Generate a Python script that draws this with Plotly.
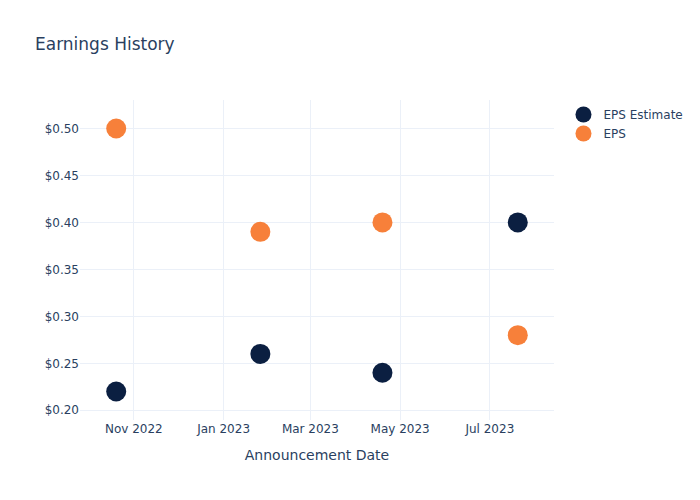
import plotly.graph_objects as go

dates = ["2022-10-20", "2023-01-26", "2023-04-19", "2023-07-20"]
eps_estimate = [0.22, 0.26, 0.24, 0.40]
eps_actual = [0.50, 0.39, 0.40, 0.28]

fig = go.Figure()
fig.add_trace(go.Scatter(x=dates, y=eps_estimate, mode="markers", name="EPS Estimate",
                         marker=dict(color="#0b1f41", size=20)))
fig.add_trace(go.Scatter(x=dates, y=eps_actual, mode="markers", name="EPS",
                         marker=dict(color="#f7803a", size=20)))
fig.update_layout(
    template="plotly_white",
    width=700, height=500,
    title=dict(text="Earnings History"),
    xaxis=dict(title="Announcement Date"),
    yaxis=dict(tickprefix="$", tickformat=".2f"),
    font=dict(family="DejaVu Sans, sans-serif"),
)
fig.write_html("out.html")
